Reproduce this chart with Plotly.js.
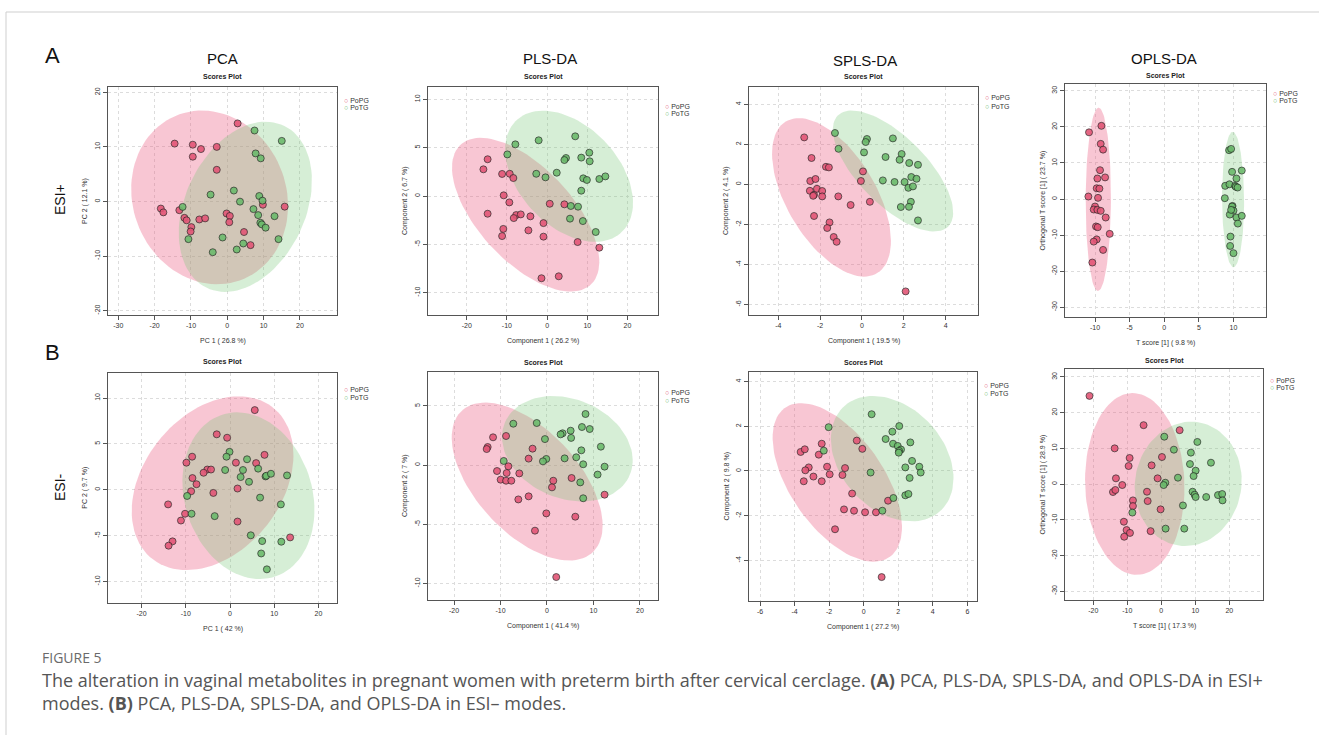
<!DOCTYPE html>
<html><head><meta charset="utf-8">
<script src="https://cdn.plot.ly/plotly-3.0.1.min.js"></script>
<style>html,body{margin:0;padding:0;background:#fff;}#chart{width:1319px;height:735px;}</style>
</head><body><div id="chart"></div>
<script>
// ---------- DATA ----------
const groups = ["PoPG", "PoTG"];
const columnTitles = ["PCA", "PLS-DA", "SPLS-DA", "OPLS-DA"];
const rowLabels = ["ESI+", "ESI-"];

// Row A (ESI+)
const A_PCA_PoPG_x = [2.84,-14.5,-9.5,-7.25,-2.9,-9.5,-2.9,-18.3,-17.6,-13.2,-11.8,-11.2,-9.9,-10.1,-7.7,-6.1,-0.2,0.7,0.55,4.6,6.4,9.8,15.8];
const A_PCA_PoPG_y = [14.3,10.6,10.4,9.6,10.0,8.2,5.8,-1.3,-2.0,-1.6,-3.0,-3.45,-4.7,-5.5,-3.3,-3.1,-2.2,-2.65,-3.8,-5.6,-8.0,-0.6,-0.95];
const A_PCA_PoTG_x = [7.5,15.0,7.8,9.2,1.8,-4.6,3.5,8.8,9.7,-12.3,7.2,8.5,13.0,9.1,9.5,10.55,-10.7,-1.3,14.1,4.4,2.6,-4.0];
const A_PCA_PoTG_y = [13.0,11.1,8.8,7.9,2.0,1.25,-0.03,1.0,0.15,-1.0,-1.4,-2.5,-2.7,-3.9,-4.2,-4.8,-6.9,-6.6,-6.9,-7.7,-8.8,-9.3];

const A_PLS_PoPG_x = [-14.8,-15.85,-11.2,-9.3,-8.4,-10.8,-9.4,-14.8,-7.7,-6.55,-8.3,-4.15,-0.9,-10.9,-11.2,-4.65,-0.9,0.66,4.3,7.6,13.0,-1.4,2.9];
const A_PLS_PoPG_y = [3.8,2.76,2.28,2.3,1.86,0.07,-0.66,-1.83,-1.97,-1.9,-2.28,-2.1,-2.8,-3.4,-4.14,-3.55,-4.2,-0.8,-0.86,-4.76,-5.34,-8.5,-8.3];
const A_PLS_PoTG_x = [-7.9,-2.1,-9.9,7.0,10.5,8.5,4.7,4.3,10.6,-2.7,-0.4,2.4,9.0,9.9,13.0,14.5,8.5,5.9,7.7,5.7,8.9,12.1];
const A_PLS_PoTG_y = [5.34,5.76,4.3,6.17,4.48,3.97,3.93,3.72,3.59,2.3,1.93,2.41,1.83,1.66,1.76,2.03,0.55,-1.03,-1.1,-2.34,-2.59,-3.72];

const A_SPLS_PoPG_x = [-2.76,-2.41,-1.72,-1.58,-2.47,-2.22,-2.49,-2.29,-2.15,-2.33,-1.9,-1.9,-1.13,-0.54,0.38,0.05,-0.05,-2.29,-1.55,-1.66,-1.35,-1.21,2.09];
const A_SPLS_PoPG_y = [2.35,1.32,0.88,0.85,0.17,0.27,-0.32,-0.52,-0.22,-0.57,-0.33,-0.6,-0.6,-1.03,-0.87,0.65,0.17,-1.58,-1.9,-2.18,-2.63,-2.87,-5.35];
const A_SPLS_PoTG_x = [-1.29,-1.12,0.24,0.18,0.1,1.48,1.13,1.9,1.8,2.26,2.68,1.0,1.56,2.04,2.36,2.61,2.22,2.44,2.34,1.86,2.25,2.68];
const A_SPLS_PoTG_y = [2.57,1.78,2.27,2.12,1.6,2.3,1.37,1.52,1.23,1.07,0.98,0.2,0.12,0.12,0.37,0.28,-0.17,-0.1,-0.87,-1.13,-1.12,-1.8];

const A_OPLS_PoPG_x = [-9.08,-10.87,-9.18,-8.84,-9.28,-9.66,-8.55,-9.76,-9.37,-10.96,-9.57,-10.0,-10.19,-9.66,-9.18,-8.46,-9.86,-9.61,-7.88,-9.76,-10.19,-8.84,-10.39];
const A_OPLS_PoPG_y = [20.3,18.5,15.3,13.7,8.0,5.7,6.0,3.0,2.9,0.7,0.33,-2.07,-2.9,-3.0,-3.27,-5.12,-7.6,-7.8,-9.65,-11.2,-11.8,-14.1,-17.6];
const A_OPLS_PoTG_x = [9.37,9.66,9.8,11.2,10.43,8.8,9.42,10.24,10.34,10.6,8.75,9.86,9.8,10.0,9.47,10.43,11.2,10.63,9.57,9.52,10.0,9.66];
const A_OPLS_PoTG_y = [13.55,13.9,7.54,7.9,5.7,3.66,4.1,3.66,3.38,3.2,0.24,-1.9,-2.07,-3.2,-4.3,-5.12,-4.66,-6.8,-10.4,-13.0,-15.0,-3.0];

// Row B (ESI-)
const B_PCA_PoPG_x = [5.6,-3.0,-0.65,7.8,-8.57,-9.87,1.33,5.9,-5.14,-4.3,-5.98,-8.5,-7.58,-8.8,-3.77,1.7,-14.0,-10.17,-11.1,1.7,-13.0,-13.9,13.6];
const B_PCA_PoPG_y = [8.68,6.04,5.67,3.8,3.6,2.95,2.95,2.9,2.2,2.2,1.85,1.27,0.6,-0.17,-0.35,0.13,-1.6,-2.62,-3.36,-3.47,-5.63,-6.1,-5.2];
const B_PCA_PoTG_x = [-0.11,-0.8,3.85,-1.1,2.93,6.36,2.4,4.3,8.04,8.2,9.26,12.9,-9.7,6.8,-8.7,-3.47,11.5,4.7,7.28,11.6,7.05,8.34];
const B_PCA_PoTG_y = [4.13,3.6,3.32,2.15,2.15,2.3,1.38,0.86,1.45,1.52,1.74,1.56,-0.68,-0.86,-2.62,-2.88,-1.6,-4.97,-5.6,-5.67,-6.95,-8.68];

const B_PLS_PoPG_x = [-11.6,-12.76,-12.97,-8.8,-3.1,-3.94,-8.3,-10.75,-8.67,-5.95,-9.96,-8.8,-7.67,1.36,1.08,5.3,-6.16,-3.94,-0.14,6.1,-2.58,12.4,2.0];
const B_PLS_PoPG_y = [2.35,1.53,1.36,2.46,1.39,0.55,-0.1,-0.5,-0.67,-0.7,-1.23,-1.32,-1.32,-1.32,-1.88,-1.09,-2.9,-2.64,-4.08,-4.36,-5.54,-2.5,-9.46];
const B_PLS_PoTG_x = [-7.24,-2.2,8.3,5.1,3.37,2.94,7.53,9.2,5.2,-0.43,11.6,7.4,6.3,3.8,-0.14,-0.86,-9.3,7.8,12.4,10.9,7.17,7.8];
const B_PLS_PoTG_y = [3.5,3.56,4.32,2.91,2.69,2.6,3.22,3.05,2.3,2.2,1.56,1.25,0.66,0.57,0.52,0.32,0.35,0.07,-0.13,-0.8,-1.46,-2.8];

const B_SPLS_PoPG_x = [-3.65,-3.41,-2.43,-2.6,-0.4,-0.08,-3.18,-3.38,-2.12,-1.08,-3.47,-2.91,-2.43,-1.97,-1.23,-0.67,-1.14,-0.56,0.08,0.71,1.41,-1.66,1.04];
const B_SPLS_PoPG_y = [0.85,0.97,1.22,0.73,1.36,0.99,0.16,0.03,0.19,0.13,-0.46,-0.25,-0.46,-0.15,-0.18,-1.01,-1.72,-1.78,-1.85,-1.85,-1.33,-2.61,-4.75];
const B_SPLS_PoTG_x = [0.46,-2.03,2.06,1.66,1.27,1.7,1.97,2.7,2.16,2.05,2.03,-2.31,2.8,3.22,2.41,3.3,0.4,2.66,2.41,2.59,1.72,1.08];
const B_SPLS_PoTG_y = [2.54,1.96,2.01,1.76,1.43,1.22,1.12,1.28,0.96,0.9,0.82,0.91,0.45,0.19,0.16,-0.07,-0.07,-0.31,-1.09,-1.03,-1.21,-1.78];

const B_OPLS_PoPG_x = [-21.1,-5.2,5.4,-13.7,-9.3,-9.6,-2.84,0.2,-13.33,-11.47,-1.08,-14.2,-13.5,-4.2,-8.33,-4.0,-8.33,-0.2,-11.0,-10.2,-9.2,-10.9,-3.14];
const B_OPLS_PoPG_y = [24.7,16.5,15.1,10.0,7.3,5.05,5.23,7.57,1.6,-0.28,1.6,-2.24,-1.68,-2.15,-4.58,-4.77,-6.17,-7.1,-10.56,-12.9,-13.7,-14.77,-13.2];
const B_OPLS_PoTG_x = [0.88,10.6,3.7,8.7,8.43,14.6,10.1,9.5,4.9,1.18,0.69,9.2,9.8,10.1,13.2,16.67,17.9,18.0,6.37,-8.5,1.27,6.76];
const B_OPLS_PoTG_y = [13.27,11.8,9.63,8.8,5.6,5.98,3.74,2.24,1.78,0.37,-0.28,-2.15,-3.0,-3.64,-3.64,-3.1,-2.8,-4.58,-6.0,-8.0,-12.5,-12.5];

// axis titles and tick labels
const xTitles = ["PC 1 ( 26.8 %)","Component 1 ( 26.2 %)","Component 1 ( 19.5 %)","T score [1] ( 9.8 %)",
                 "PC 1 ( 42 %)","Component 1 ( 41.4 %)","Component 1 ( 27.2 %)","T score [1] ( 17.3 %)"];
const yTitles = ["PC 2 ( 12.1 %)","Component 2 ( 6.7 %)","Component 2 ( 4.1 %)","Orthogonal T score [1] ( 23.7 %)",
                 "PC 2 ( 9.7 %)","Component 2 ( 7 %)","Component 2 ( 9.8 %)","Orthogonal T score [1] ( 28.9 %)"];
const xTicks = [[-30,-20,-10,0,10,20],[-20,-10,0,10,20],[-4,-2,0,2,4],[-10,-5,0,5,10],
                [-20,-10,0,10,20],[-20,-10,0,10,20],[-6,-4,-2,0,2,4,6],[-20,-10,0,10,20]];
const yTicks = [[-20,-10,0,10,20],[-10,-5,0,5,10],[-6,-4,-2,0,2,4],[-30,-20,-10,0,10,20,30],
                [-10,-5,0,5,10],[-10,-5,0,5],[-4,-2,0,2,4],[-30,-20,-10,0,10,20,30]];

const seriesData = [
  [[A_PCA_PoPG_x,A_PCA_PoPG_y],[A_PCA_PoTG_x,A_PCA_PoTG_y]],
  [[A_PLS_PoPG_x,A_PLS_PoPG_y],[A_PLS_PoTG_x,A_PLS_PoTG_y]],
  [[A_SPLS_PoPG_x,A_SPLS_PoPG_y],[A_SPLS_PoTG_x,A_SPLS_PoTG_y]],
  [[A_OPLS_PoPG_x,A_OPLS_PoPG_y],[A_OPLS_PoTG_x,A_OPLS_PoTG_y]],
  [[B_PCA_PoPG_x,B_PCA_PoPG_y],[B_PCA_PoTG_x,B_PCA_PoTG_y]],
  [[B_PLS_PoPG_x,B_PLS_PoPG_y],[B_PLS_PoTG_x,B_PLS_PoTG_y]],
  [[B_SPLS_PoPG_x,B_SPLS_PoPG_y],[B_SPLS_PoTG_x,B_SPLS_PoTG_y]],
  [[B_OPLS_PoPG_x,B_OPLS_PoPG_y],[B_OPLS_PoTG_x,B_OPLS_PoTG_y]]
];

// ---------- LAYOUT (pixel geometry) ----------
const W = 1319, H = 735;
const boxes = [ // [left, right, top, bottom] in px
  [108,337,87,315],[428,658,87,315],[749,978,87,315],[1065,1266,84,317],
  [108,337,372.5,603],[428,658,372,600],[749,977,372,601],[1065,1263,369,600]
];
const xRanges = [[-32.84,30.2],[-29.64,27.6],[-5.4,5.55],[-14.34,14.7],
                 [-27.6,24.2],[-25.6,23.9],[-6.64,6.56],[-28.3,29.9]];
const yRanges = [[-20.8,20.97],[-12.3,11.27],[-6.53,4.87],[-32.7,31.9],
                 [-12.35,12.78],[-11.4,7.87],[-5.82,4.43],[-32.5,32.24]];
const legendY = [[100,108],[106,114],[98,106],[93.5,100.5],[389.5,397.5],[392,400],[385,393],[380,387]];
const scoresY = [76.5,76.5,76.5,75,361.7,362,362,360.3];

const PG_COL = 'rgb(226,86,118)', TG_COL = 'rgb(108,186,108)';
const PG_FILL = 'rgba(236,98,134,0.36)', TG_FILL = 'rgba(120,200,120,0.30)';
const FONT = 'Liberation Sans, Arial, sans-serif';

// 95% confidence ellipse from the points (as the original software does)
function confEllipse(xs, ys) {
  const n = xs.length;
  const mx = xs.reduce((a,b)=>a+b,0)/n, my = ys.reduce((a,b)=>a+b,0)/n;
  let sxx=0, syy=0, sxy=0;
  for (let i=0;i<n;i++){const dx=xs[i]-mx, dy=ys[i]-my; sxx+=dx*dx; syy+=dy*dy; sxy+=dx*dy;}
  sxx/=(n-1); syy/=(n-1); sxy/=(n-1);
  const sx=Math.sqrt(sxx), sy=Math.sqrt(syy);
  const r = sxy/(sx*sy), d = Math.acos(r), t = Math.sqrt(5.991464547);
  const ex=[], ey=[];
  for (let k=0;k<=100;k++){const a=2*Math.PI*k/100;
    ex.push(mx + t*sx*Math.cos(a + d/2)); ey.push(my + t*sy*Math.cos(a - d/2));}
  return {x:ex, y:ey};
}

const px = v => v / W, py = v => 1 - v / H;
const traces = [], layout = {
  width:W, height:H, margin:{l:0,r:0,t:0,b:0}, paper_bgcolor:'#fff', plot_bgcolor:'#fff',
  showlegend:false, hovermode:false, font:{family:FONT, color:'#333'},
  annotations:[], shapes:[]
};

seriesData.forEach((pair, i) => {
  const k = i + 1, xa = 'x' + (k===1?'':k), ya = 'y' + (k===1?'':k);
  const [l, r, t, b] = boxes[i];
  const fills = [PG_FILL, TG_FILL], cols = [PG_COL, TG_COL];
  pair.forEach((s, g) => {
    const e = confEllipse(s[0], s[1]);
    traces.push({type:'scatter', mode:'lines', x:e.x, y:e.y, fill:'toself', fillcolor:fills[g],
      line:{width:0, color:'rgba(0,0,0,0)'}, xaxis:xa, yaxis:ya, hoverinfo:'skip'});
  });
  pair.forEach((s, g) => {
    traces.push({type:'scatter', mode:'markers', name:groups[g], x:s[0], y:s[1], xaxis:xa, yaxis:ya,
      marker:{size:7, color:cols[g], opacity:0.9, line:{width:0.8, color:'rgba(30,30,30,0.9)'}}});
  });
  const common = {showline:true, mirror:true, linecolor:'#555', linewidth:1, ticks:'outside', ticklen:4,
    tickcolor:'#555', tickwidth:1, tickfont:{size:7, color:'#333', family:FONT}, showgrid:true,
    gridcolor:'#dcdcdc', griddash:'dot', gridwidth:1, zeroline:false, fixedrange:true, tickmode:'array'};
  layout['xaxis' + (k===1?'':k)] = Object.assign({}, common, {domain:[px(l), px(r)], range:xRanges[i],
    anchor:ya, tickvals:xTicks[i], ticktext:xTicks[i].map(String)});
  layout['yaxis' + (k===1?'':k)] = Object.assign({}, common, {domain:[py(b), py(t)], range:yRanges[i],
    anchor:xa, tickvals:yTicks[i], ticktext:yTicks[i].map(String), tickangle:-90});
  const cx = (l + r) / 2, cy = (t + b) / 2;
  const ann = layout.annotations;
  ann.push({xref:'paper', yref:'paper', x:px(cx), y:py(scoresY[i]), text:'<b>Scores Plot</b>', showarrow:false,
    font:{size:7, color:'#222', family:FONT}, xanchor:'center', yanchor:'middle'});
  ann.push({xref:'paper', yref:'paper', x:px(cx), y:py(b + 26), text:xTitles[i], showarrow:false,
    font:{size:7, color:'#333', family:FONT}, xanchor:'center', yanchor:'middle'});
  ann.push({xref:'paper', yref:'paper', x:px(l - 23), y:py(cy), text:yTitles[i], showarrow:false, textangle:-90,
    font:{size:7, color:'#333', family:FONT}, xanchor:'center', yanchor:'middle'});
  groups.forEach((gname, g) => {
    ann.push({xref:'paper', yref:'paper', x:px(r + 5), y:py(legendY[i][g]),
      text:'<span style="color:' + cols[g] + '">○</span> ' + gname, showarrow:false,
      font:{size:7, color:'#333', family:FONT}, xanchor:'left', yanchor:'middle'});
  });
});

// column titles, row letters, row labels
const colX = [222, 550, 865, 1164], colY = [58, 58, 61, 58];
columnTitles.forEach((c, j) => layout.annotations.push({xref:'paper', yref:'paper', x:px(colX[j]), y:py(colY[j]),
  text:c, showarrow:false, font:{size:15, color:'#111', family:FONT}, xanchor:'center', yanchor:'middle'}));
[['A',56],['B',352]].forEach(([t, y]) => layout.annotations.push({xref:'paper', yref:'paper', x:px(52), y:py(y),
  text:t, showarrow:false, font:{size:22, color:'#111', family:FONT}, xanchor:'center', yanchor:'middle'}));
[[200],[487]].forEach(([y], j) => layout.annotations.push({xref:'paper', yref:'paper', x:px(60), y:py(y),
  text:rowLabels[j], showarrow:false, textangle:-90, font:{size:14, color:'#111', family:FONT},
  xanchor:'center', yanchor:'middle'}));

// caption
const CAP = 'Open Sans, Noto Sans, sans-serif';
layout.annotations.push({xref:'paper', yref:'paper', x:px(40), y:py(657), text:'FIGURE 5', showarrow:false,
  font:{size:14, color:'#6a6a6a', family:CAP}, xanchor:'left', yanchor:'middle'});
layout.annotations.push({xref:'paper', yref:'paper', x:px(40), y:py(680),
  text:'The alteration in vaginal metabolites in pregnant women with preterm birth after cervical cerclage. <b>(A)</b> PCA, PLS-DA, SPLS-DA, and OPLS-DA in ESI+',
  showarrow:false, font:{size:18, color:'#555', family:CAP}, xanchor:'left', yanchor:'middle'});
layout.annotations.push({xref:'paper', yref:'paper', x:px(40), y:py(703),
  text:'modes. <b>(B)</b> PCA, PLS-DA, SPLS-DA, and OPLS-DA in ESI– modes.',
  showarrow:false, font:{size:18, color:'#555', family:CAP}, xanchor:'left', yanchor:'middle'});

// frame lines
layout.shapes.push({type:'line', xref:'paper', yref:'paper', x0:px(6), x1:1, y0:py(12), y1:py(12), line:{color:'#cfcfcf', width:1}});
layout.shapes.push({type:'line', xref:'paper', yref:'paper', x0:px(6), x1:px(6), y0:py(12), y1:0, line:{color:'#cfcfcf', width:1}});

Plotly.newPlot('chart', traces, layout, {displayModeBar:false, staticPlot:true});
</script></body></html>
